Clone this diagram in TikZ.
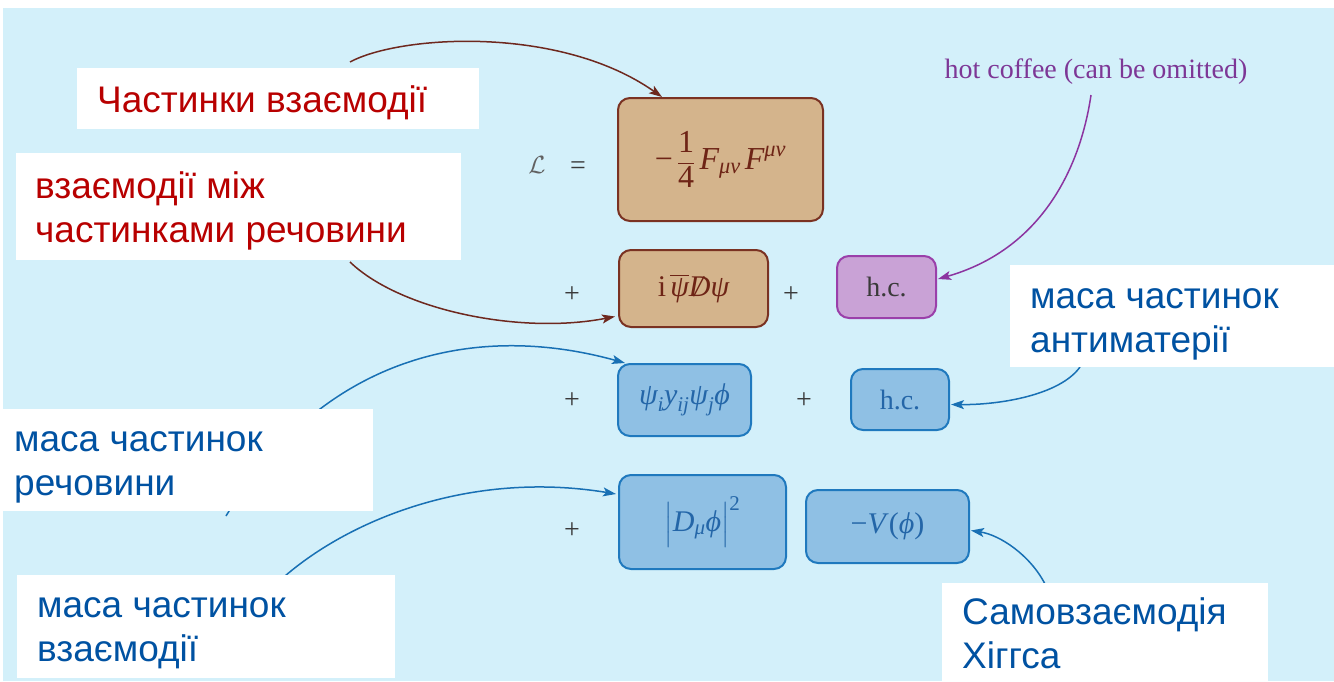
\documentclass[tikz,border=0pt]{standalone}
\usepackage{amsmath}
\usepackage[no-math]{fontspec}
\setmainfont{Liberation Serif}
\newfontfamily\labfont{Liberation Sans}
\usetikzlibrary{arrows.meta,calc}
\definecolor{bgblue}{HTML}{D3F0FA}
\definecolor{tanfill}{HTML}{D4B48C}
\definecolor{tanline}{HTML}{7A3222}
\definecolor{tantext}{HTML}{6E2416}
\definecolor{purpfill}{HTML}{C9A2D6}
\definecolor{purpline}{HTML}{9A40AA}
\definecolor{purparrow}{HTML}{8C34A0}
\definecolor{coffee}{HTML}{7D3796}
\definecolor{bluefill}{HTML}{8FC0E4}
\definecolor{blueline}{HTML}{1F79BE}
\definecolor{bluetext}{HTML}{2466A8}
\definecolor{bluearrow}{HTML}{1870B4}
\definecolor{brownarrow}{HTML}{6E281E}
\definecolor{redtext}{HTML}{B80000}
\definecolor{labblue}{HTML}{0052A2}
\definecolor{opgray}{HTML}{3A3A3A}
\newcommand{\ti}[1]{\textit{#1}}
\newcommand{\slD}{\mathord{\ooalign{\textit{D}\cr\hidewidth\textit{/}\hidewidth\cr}}}
\begin{document}
\begin{tikzpicture}[x=1pt,y=-1pt,
  term/.style={draw, line width=2pt, rounded corners=12pt, inner sep=0pt, anchor=north west},
  tanbox/.style={term, fill=tanfill, draw=tanline, text=tantext, font=\fontsize{30}{36}\selectfont},
  purpbox/.style={term, fill=purpfill, draw=purpline, text=opgray, font=\fontsize{28}{32}\selectfont},
  bluebox/.style={term, fill=bluefill, draw=blueline, text=bluetext, font=\fontsize{30}{36}\selectfont},
  op/.style={text=opgray, font=\fontsize{28}{32}\selectfont, inner sep=0pt},
  whitebox/.style={fill=white, anchor=north west, inner sep=0pt},
  labtext/.style={anchor=base west, inner sep=0pt, font=\labfont\fontsize{37}{44}\selectfont},
  redlab/.style={labtext, text=redtext},
  bluelab/.style={labtext, text=labblue},
  conn/.style={-{Stealth[length=13pt,width=9pt,inset=3pt]}, line width=1.5pt},
  brownconn/.style={conn, draw=brownarrow},
  purpconn/.style={conn, draw=purparrow},
  blueconn/.style={conn, draw=bluearrow}]
\useasboundingbox (0,0) rectangle (1334,681);
\fill[white] (0,0) rectangle (1334,681);
\fill[bgblue] (3,8) rectangle (1334,681);

% terms
\node[tanbox, font=\fontsize{32}{38}\selectfont, minimum width=205, minimum height=123] (F) at (617,97) {$\text{−}\,\dfrac{\text{1}}{\text{4}}\,\ti{F}_{\ti{μν}}\,\ti{F}^{\ti{μν}}$};
\node[tanbox, minimum width=149, minimum height=77] (Dirac) at (618,249) {$\text{i}\,\overline{\ti{ψ}}\slD\ti{ψ}$};
\node[purpbox, minimum width=99, minimum height=62] (hc1) at (836,255) {h.c.};
\node[bluebox, minimum width=133, minimum height=72] (Yuk) at (617,363) {$\ti{ψ}_{\ti{i}}\ti{y}_{\ti{ij}}\ti{ψ}_{\ti{j}}\ti{ϕ}$};
\node[bluebox, font=\fontsize{28}{32}\selectfont, minimum width=98, minimum height=61] (hc2) at (850,368) {h.c.};
\node[bluebox, minimum width=167, minimum height=94] (Kin) at (618,474) {$\Bigl|\ti{D}_{\ti{μ}}\ti{ϕ}\Bigr|^{\text{2}}$};
\node[bluebox, minimum width=163, minimum height=73] (Pot) at (805,489) {−\ti{V}(\ti{ϕ})};

% operators
\node[op, text=opgray!80, font=\fontsize{32}{36}\selectfont] (L) at (537,165) {$\mathcal{L}$};
\node[op] (eq) at (578,168) {=};
\node[op] (p1) at (572,295) {+};
\node[op] (p2) at (791,295) {+};
\node[op] (p3) at (572,401) {+};
\node[op] (p4) at (804,401) {+};
\node[op] (p5) at (572,531) {+};

\node[text=coffee, font=\fontsize{28}{32}\selectfont, anchor=base, inner sep=0pt] (coffee) at (1096,78) {hot coffee (can be omitted)};

% connector start points
\coordinate (s1) at (350,62);
\coordinate (s2) at (350,262);
\coordinate (s3) at (1091,95);
\coordinate (s4) at (1080,367);
\coordinate (s5) at (226,516);
\coordinate (s6) at (285,576);
\coordinate (s7) at (1045,584);

\draw[brownconn] (s1) .. controls (400,35) and (560,25) .. ($(F.north west)+(45,0)$);
\draw[brownconn] (s2) .. controls (400,310) and (520,335) .. ($(Dirac.west)+(-3,28)$);
\draw[purpconn] (s3) .. controls (1080,170) and (1040,250) .. ($(hc1.east)+(1,-8)$);
\draw[blueconn] (s4) .. controls (1060,395) and (1000,405) .. ($(hc2.east)+(1,5)$);
\draw[blueconn] (s5) .. controls (320,360) and (470,320) .. ($(Yuk.north west)+(8,0)$);
\draw[blueconn] (s6) .. controls (350,520) and (470,470) .. ($(Kin.west)+(-2,-28)$);
\draw[blueconn] (s7) .. controls (1030,555) and (1000,535) .. ($(Pot.east)+(1,4)$);

% callouts: white boxes
\node[whitebox, minimum width=402, minimum height=61] (c1) at (77,68) {};
\node[whitebox, minimum width=445, minimum height=107] (c2) at (16,153) {};
\node[whitebox, minimum width=370, minimum height=102] (c3) at (3,409) {};
\node[whitebox, minimum width=378, minimum height=103] (c4) at (17,575) {};
\node[whitebox, minimum width=324, minimum height=102] (c5) at (1010,265) {};
\node[whitebox, minimum width=326, minimum height=98] (c6) at (942,583) {};
% callout texts
\node[redlab] (c1a) at (97,112) {Частинки взаємодії};
\node[redlab] (c2a) at (35,198) {взаємодії між};
\node[redlab] (c2b) at (35,242) {частинками речовини};
\node[bluelab] (c3a) at (14,451) {маса частинок};
\node[bluelab] (c3b) at (14,495) {речовини};
\node[bluelab] (c4a) at (37,617) {маса частинок};
\node[bluelab] (c4b) at (37,661) {взаємодії};
\node[bluelab] (c5a) at (1030,308) {маса частинок};
\node[bluelab] (c5b) at (1030,352) {антиматерії};
\node[bluelab] (c6a) at (962,624) {Самовзаємодія};
\node[bluelab] (c6b) at (962,668) {Хіггса};
\end{tikzpicture}
\end{document}
